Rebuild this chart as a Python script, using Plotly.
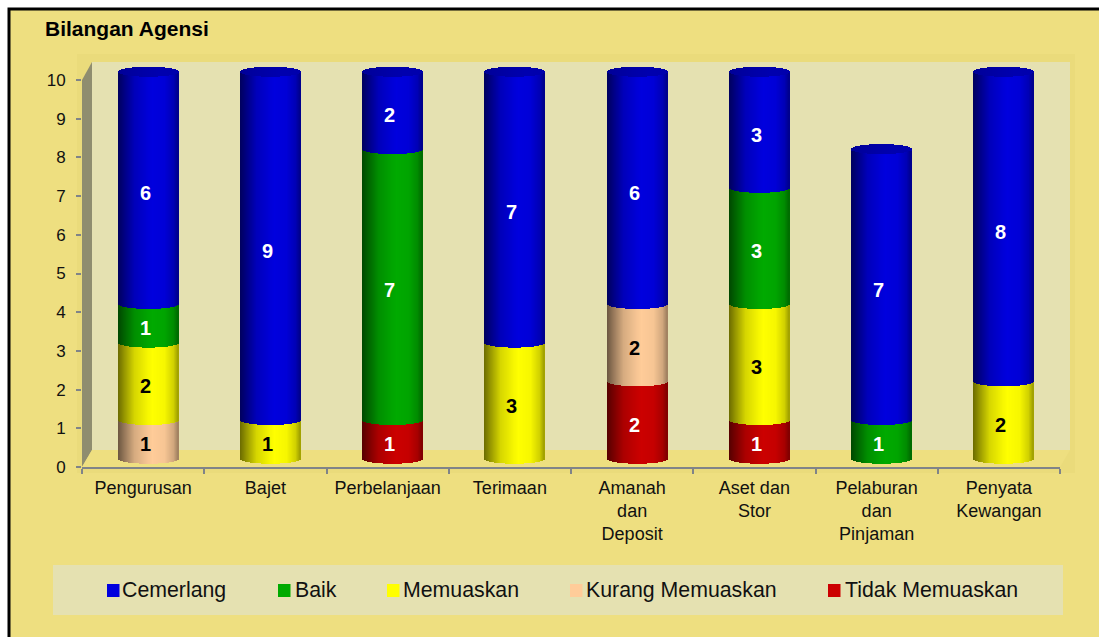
import numpy as np
import plotly.graph_objects as go

categories = ["Pengurusan", "Bajet", "Perbelanjaan", "Terimaan", "Amanah<br>dan<br>Deposit",
              "Aset dan<br>Stor", "Pelaburan<br>dan<br>Pinjaman", "Penyata<br>Kewangan"]
cemerlang = [6, 9, 2, 7, 6, 3, 7, 8]
baik = [1, 0, 7, 0, 0, 3, 1, 0]
memuaskan = [2, 1, 0, 3, 0, 3, 0, 2]
kurang = [1, 0, 0, 0, 2, 0, 0, 0]
tidak = [0, 0, 1, 0, 2, 1, 0, 0]
y_ticks = list(range(0, 11))

# bottom-to-top stacking order
stack = [("Tidak Memuaskan", tidak, (204, 0, 0), "white"),
         ("Kurang Memuaskan", kurang, (255, 204, 153), "black"),
         ("Memuaskan", memuaskan, (255, 255, 0), "black"),
         ("Baik", baik, (0, 170, 0), "white"),
         ("Cemerlang", cemerlang, (0, 0, 222), "white")]
legend_order = [("Cemerlang", (0, 0, 222), 107, 122),
                ("Baik", (0, 170, 0), 278, 295),
                ("Memuaskan", (255, 255, 0), 387, 403),
                ("Kurang Memuaskan", (255, 204, 153), 570, 586),
                ("Tidak Memuaskan", (204, 0, 0), 828, 845)]

W, H = 1099, 637
BG, WALL, SIDE, EDGE = "#EEDF80", "#E5E1B1", "#8F8D6F", "#EADB7B"
AX = "#808488"
X0, X1, Y0, Y10 = 82, 1060, 467, 80
unit_px = (Y0 - Y10) / 10
cat_px = (X1 - X0) / 8
BX, BY = 5, 8.2
n_strips, bar_px, ell_px = 60, 60, 5


def px(x):
    return x / W


def py(y):
    return 1 - y / H


def shade(rgb, t):
    f = np.interp(t, [-1, -.8, -.45, 0, .15, .55, .85, 1], [.42, .58, .84, .97, 1, .97, .82, .62])
    return "rgb(%d,%d,%d)" % tuple(int(c * f) for c in rgb)


ts = (np.arange(n_strips) + .5) / n_strips * 2 - 1
strip_w = bar_px / n_strips / cat_px
offsets = ts * (bar_px / 2) / cat_px
dys = ell_px * np.sqrt(1 - ts ** 2) / unit_px

fig = go.Figure()
cum = np.zeros(len(categories))
for name, vals, rgb, _ in stack:
    xs, bases, hs, cols = [], [], [], []
    for i, v in enumerate(vals):
        if v == 0:
            continue
        for t, o, d in zip(ts, offsets, dys):
            xs.append(i + o)
            bases.append(cum[i] - d)
            hs.append(v)
            cols.append(shade(rgb, t))
    fig.add_trace(go.Bar(x=xs, y=hs, base=bases, width=strip_w, name=name, xaxis="x2", yaxis="y2",
                         marker=dict(color=cols, line=dict(width=0)), showlegend=False, hoverinfo="skip"))
    cum += np.array(vals)

# top caps of the cylinders
xs, bases, hs, cols = [], [], [], []
for i, total in enumerate(cum):
    for t, o, d in zip(ts, offsets, dys):
        xs.append(i + o)
        bases.append(total - d)
        hs.append(2 * d)
        cols.append(shade((0, 0, 175), t * .35))
fig.add_trace(go.Bar(x=xs, y=hs, base=bases, width=strip_w, xaxis="x2", yaxis="y2", name="top",
                     marker=dict(color=cols, line=dict(width=0)), showlegend=False, hoverinfo="skip"))

# invisible trace carrying the category axis
fig.add_trace(go.Scatter(x=categories, y=[0] * len(categories), mode="none", showlegend=False, hoverinfo="skip"))

annotations = []
cum = np.zeros(len(categories))
for name, vals, rgb, tc in stack:
    for i, v in enumerate(vals):
        if v:
            annotations.append(dict(x=i, y=cum[i] + v / 2, xref="x2", yref="y2", text=f"<b>{v}</b>", showarrow=False,
                                    xshift=-3, yshift=-5, font=dict(family="Liberation Sans", size=20, color=tc)))
    cum += np.array(vals)

shapes = [
    dict(type="rect", x0=px(9), x1=1.01, y0=-.01, y1=py(9), xref="paper", yref="paper", fillcolor=BG,
         line=dict(color="black", width=3), layer="below"),
    dict(type="rect", x0=px(77), x1=px(1075), y0=py(473), y1=py(54), xref="paper", yref="paper", fillcolor=EDGE, line_width=0, layer="below"),
    dict(type="rect", x0=px(92), x1=px(1070), y0=py(450), y1=py(62), xref="paper", yref="paper", fillcolor=WALL, line_width=0, layer="below"),
    dict(type="path", xref="paper", yref="paper", line_width=0, fillcolor=SIDE, layer="below",
         path=f"M{px(82)},{py(467)}L{px(92)},{py(450)}L{px(92)},{py(62)}L{px(82)},{py(80)}Z"),
    dict(type="path", xref="paper", yref="paper", line_width=0, fillcolor=BG, layer="below",
         path=f"M{px(82)},{py(467)}L{px(92)},{py(450)}L{px(1070)},{py(450)}L{px(1060)},{py(467)}Z"),
    dict(type="rect", x0=px(53), x1=px(1063), y0=py(615), y1=py(565), xref="paper", yref="paper", fillcolor=WALL, line_width=0, layer="below"),
]
for name, rgb, sx, tx in legend_order:
    shapes.append(dict(type="rect", x0=px(sx), x1=px(sx + 12.5), y0=py(597), y1=py(584), xref="paper", yref="paper",
                       fillcolor="rgb(%d,%d,%d)" % rgb, line_width=0))
    annotations.append(dict(x=px(tx), y=py(590), xref="paper", yref="paper", xanchor="left", yanchor="middle", text=name,
                            showarrow=False, xshift=-2, font=dict(family="Liberation Sans", size=21.3, color="#111")))

fig.update_layout(
    template="none",
    width=W, height=H, margin=dict(l=0, r=0, t=0, b=0, pad=0), autosize=False,
    paper_bgcolor="white", plot_bgcolor="rgba(0,0,0,0)", barmode="overlay", bargap=0, hovermode=False,
    font=dict(family="Liberation Sans", color="#111"), showlegend=False,
    title=dict(text="<b>Bilangan Agensi</b>", x=45 / W, xanchor="left", xref="paper", y=py(29), yanchor="middle",
               yref="container", font=dict(family="Liberation Sans", size=21, color="black")),
    xaxis=dict(domain=[px(X0), px(X1)], type="category", categoryorder="array", categoryarray=categories,
               range=[-.5, 7.5], tickson="boundaries", ticks="outside", ticklen=5, tickwidth=2, tickcolor=AX,
               showline=True, linecolor=AX, linewidth=2, showgrid=False, zeroline=False, anchor="y",
               automargin=False, tickangle=0, ticklabelstandoff=3, tickfont=dict(size=18)),
    yaxis=dict(domain=[py(Y0), py(Y10)], range=[0, 10], tickvals=y_ticks, ticks="outside", ticklen=5, tickwidth=2,
               tickcolor=AX, showgrid=False, zeroline=False, showline=False, anchor="x", ticklabelstandoff=7,
               automargin=False, tickfont=dict(size=17)),
    xaxis2=dict(domain=[px(X0 + BX), px(X1 + BX)], range=[-.5, 7.5], visible=False, anchor="y2", automargin=False),
    yaxis2=dict(domain=[py(Y0 - BY + unit_px), py(Y10 - BY - unit_px)], range=[-1, 11], visible=False, anchor="x2", automargin=False),
    shapes=shapes, annotations=annotations,
)
fig.write_html("out.html", config=dict(displayModeBar=False), post_script="document.body.style.margin='0';document.documentElement.style.overflow='hidden';")
